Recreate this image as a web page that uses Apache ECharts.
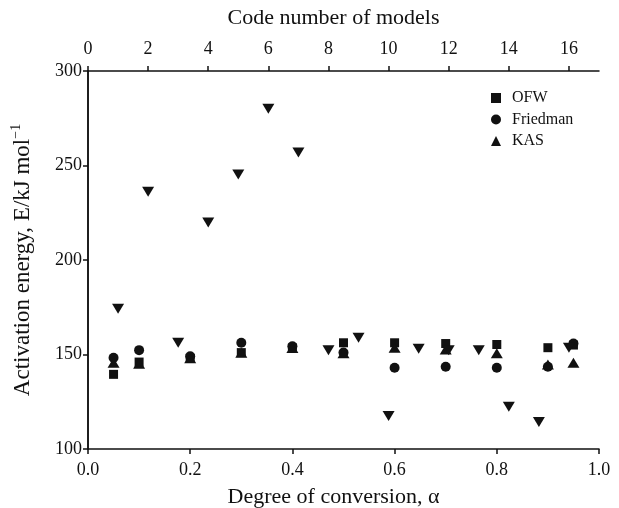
<!DOCTYPE html>
<html>
<head>
<meta charset="utf-8">
<script src="https://cdn.jsdelivr.net/npm/echarts@6/dist/echarts.min.js"></script>
<style>
  html, body { margin: 0; padding: 0; background: #fff; }
  #chart { width: 619px; height: 508px; }
</style>
</head>
<body>
<div id="chart"></div>
<script>
// Degree of conversion values where the isoconversional methods were evaluated
const alpha = [0.05, 0.1, 0.2, 0.3, 0.4, 0.5, 0.6, 0.7, 0.8, 0.9, 0.95];
// Activation energies (kJ/mol) per method
const ofw      = [139.5, 146, 148, 151, 153.5, 156.2, 156.2, 155.8, 155.3, 153.6, 155];
const friedman = [148.3, 152.3, 149.1, 156.2, 154.4, 151, 143, 143.5, 143, 143.5, 155.8];
const kas      = [145.6, 145.1, 148, 150.9, 153.5, 150.6, 153.6, 152.7, 150.6, 144.7, 145.6];
// Activation energies from the model-fitting approach, by model code number
const modelCodes = [1, 2, 3, 4, 5, 6, 7, 8, 9, 10, 11, 12, 13, 14, 15, 16];
const modelEnergy = [174.2, 236.1, 156.2, 219.9, 245.3, 280.0, 256.9, 152.3, 158.8, 117.4, 153.0, 152.3, 152.3, 122.4, 114.3, 153.6];
// Axis tick values
const alphaTicks = [0, 0.2, 0.4, 0.6, 0.8, 1.0];
const codeTicks = [0, 2, 4, 6, 8, 10, 12, 14, 16];
const energyTicks = [100, 150, 200, 250, 300];

const FONT = 'Liberation Serif';
const INK = '#111';

const zip = (xs, ys) => xs.map((x, i) => [x, ys[i]]);

const chart = echarts.init(document.getElementById('chart'));
chart.setOption({
  backgroundColor: '#fff',
  animation: false,
  grid: { left: 88, right: 20, top: 71, bottom: 59, outerBoundsMode: 'none', containLabel: false },
  legend: {
    left: 486, top: 85,
    orient: 'vertical',
    itemWidth: 10, itemHeight: 10, itemGap: 5.5,
    textStyle: { fontFamily: FONT, fontSize: 16, color: INK, padding: [0, 0, 0, 6] },
    data: ['OFW', 'Friedman', 'KAS']
  },
  xAxis: [
    {
      type: 'value', position: 'bottom', min: 0, max: 1, interval: 0.2,
      name: 'Degree of conversion, \u03b1', nameLocation: 'middle', nameGap: 37,
      nameTextStyle: { fontFamily: FONT, fontSize: 22, color: INK, padding: [0, 20, 0, 0] },
      axisLine: { lineStyle: { color: INK, width: 1.5 } },
      axisTick: { inside: false, length: 5, lineStyle: { color: INK, width: 1.5 } },
      axisLabel: {
        fontFamily: FONT, fontSize: 18, color: INK, margin: 12,
        formatter: v => alphaTicks.some(t => Math.abs(t - v) < 1e-9) ? v.toFixed(1) : ''
      },
      splitLine: { show: false }
    },
    {
      type: 'value', position: 'top', min: 0, max: 17, interval: 2,
      name: 'Code number of models', nameLocation: 'middle', nameGap: 42,
      nameTextStyle: { fontFamily: FONT, fontSize: 22, color: INK, padding: [0, 20, 0, 0] },
      axisLine: { lineStyle: { color: INK, width: 1.5 } },
      axisTick: { inside: false, length: 5, lineStyle: { color: INK, width: 1.5 } },
      axisLabel: {
        fontFamily: FONT, fontSize: 18, color: INK, margin: 13,
        showMaxLabel: false,
        formatter: v => codeTicks.includes(v) ? String(v) : ''
      },
      splitLine: { show: false }
    }
  ],
  yAxis: [
    {
      type: 'value', position: 'left', min: 100, max: 300, interval: 50,
      name: 'Activation energy, E/kJ mol{sup|\u22121}', nameLocation: 'middle', nameGap: 51,
      nameTextStyle: {
        fontFamily: FONT, fontSize: 23, color: INK,
        rich: { sup: { fontFamily: FONT, fontSize: 14, color: INK, verticalAlign: 'top', padding: [0, 0, 14, 0] } }
      },
      axisLine: { lineStyle: { color: INK, width: 1.5 } },
      axisTick: { inside: false, length: 5, lineStyle: { color: INK, width: 1.5 } },
      axisLabel: {
        fontFamily: FONT, fontSize: 18, color: INK, margin: 6,
        formatter: v => energyTicks.includes(v) ? String(v) : ''
      },
      splitLine: { show: false }
    },
    {
      type: 'value', position: 'right', min: 100, max: 300,
      axisLine: { show: true, lineStyle: { color: INK, width: 1.5 } },
      axisTick: { show: false }, axisLabel: { show: false }, splitLine: { show: false }
    }
  ],
  series: [
    {
      name: 'Models', type: 'scatter', xAxisIndex: 1, yAxisIndex: 0,
      symbol: 'triangle', symbolRotate: 180, symbolSize: [12, 10],
      itemStyle: { color: INK, opacity: 1 }, z: 3,
      data: zip(modelCodes, modelEnergy)
    },
    {
      name: 'OFW', type: 'scatter', xAxisIndex: 0, yAxisIndex: 0,
      symbol: 'rect', symbolSize: 9, itemStyle: { color: INK, opacity: 1 },
      data: zip(alpha, ofw)
    },
    {
      name: 'Friedman', type: 'scatter', xAxisIndex: 0, yAxisIndex: 0,
      symbol: 'circle', symbolSize: 10, itemStyle: { color: INK, opacity: 1 },
      data: zip(alpha, friedman)
    },
    {
      name: 'KAS', type: 'scatter', xAxisIndex: 0, yAxisIndex: 0,
      symbol: 'triangle', symbolSize: [12, 10], itemStyle: { color: INK, opacity: 1 },
      data: zip(alpha, kas)
    }
  ]
});
</script>
</body>
</html>
